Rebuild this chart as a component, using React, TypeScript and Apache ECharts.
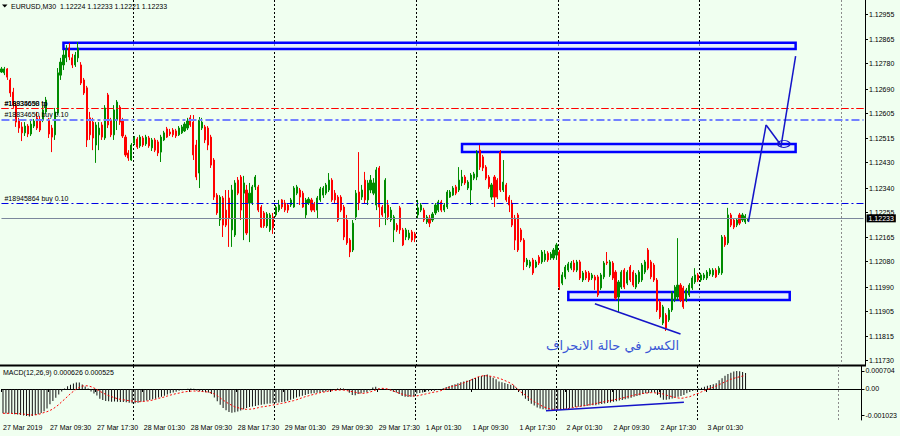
import React, { useEffect, useRef } from "react";
import * as echarts from "echarts";

// ---------------- data ----------------
const TITLE = "EURUSD,M30\u00a0\u00a01.12224 1.12233 1.12221 1.12233";
const MACD_TITLE = "MACD(12,26,9) 0.000626 0.000525";
const NOTE = "الكسر في حالة الانحراف";

const TIME_LABELS = [
  "27 Mar 2019", "27 Mar 09:30", "27 Mar 17:30", "28 Mar 01:30", "28 Mar 09:30", "28 Mar 17:30",
  "29 Mar 01:30", "29 Mar 09:30", "29 Mar 17:30", "1 Apr 01:30", "1 Apr 09:30", "1 Apr 17:30",
  "2 Apr 01:30", "2 Apr 09:30", "2 Apr 17:30", "3 Apr 01:30",
];
const LABEL_EVERY = 16; // bars between time labels
const VISIBLE_SLOTS = 293; // bar slots visible on the chart
const DAY_SEPARATORS = [45, 93, 141, 189, 237, 285];

const PRICE_TICKS = [1.12955, 1.12865, 1.1278, 1.1269, 1.12605, 1.12515, 1.1243, 1.1234, 1.12255, 1.12165, 1.1208, 1.1199, 1.11905, 1.11815, 1.1173];
const PRICE_MIN = 1.117147;
const PRICE_MAX = 1.130045;
const MACD_TICKS = [0.000704, 0, -0.001023];
const MACD_MIN = -0.001212;
const MACD_MAX = 0.000899;
const LAST_PRICE = 1.12233;

const TP_PRICE = 1.12622;
const TP_LABELS = ["#18834650 tp", "#18935698 tp"];
const BUY_PRICES = [1.12583, 1.12286];
const BUY_LABELS = ["#18834650 buy 0.10", "#18945864 buy 0.10"];

// rectangles: [barFrom, priceTop, barTo, priceBottom]
const BOXES = [
  [21, 1.12853, 269, 1.12831],
  [156, 1.12496, 269, 1.12467],
  [192, 1.11973, 267, 1.11944],
];
// trend lines: [[bar, price], [bar, price]]
const TRENDS = [
  [[201, 1.11931], [230, 1.11824]],
  [[253, 1.1222], [259, 1.12563]],
  [[259, 1.12563], [264, 1.12492]],
  [[264, 1.12485], [269, 1.12806]],
];
const ELLIPSE_AT = [265, 1.12496];
const NOTE_AT = [207, 1.11785];
const MACD_TREND = [[185, -0.000848], [232, -0.00052]];

// candles: [open, close, low, high] in points (1e-5)
const CANDLES_PTS = [
  [112750,112761,112747,112768],[112747,112761,112739,112768],[112761,112732,112722,112764],[112722,112676,112662,112729],[112679,112633,112623,112694],
  [112633,112573,112556,112641],[112580,112552,112535,112588],[112556,112535,112506,112573],[112535,112559,112524,112573],[112559,112531,112520,112566],
  [112531,112566,112524,112577],[112559,112577,112552,112584],[112588,112552,112545,112609],[112580,112545,112538,112595],[112580,112616,112573,112630],
  [112609,112651,112602,112662],[112580,112531,112517,112588],[112552,112520,112467,112563],[112528,112609,112510,112623],[112605,112747,112598,112764],
  [112739,112785,112722,112800],[112775,112810,112757,112828],[112800,112828,112785,112845],[112835,112803,112792,112853],[112800,112775,112764,112814],
  [112775,112810,112768,112821],[112800,112835,112785,112856],[112775,112711,112704,112785],[112722,112676,112669,112729],[112694,112510,112485,112701],
  [112588,112528,112510,112609],[112573,112517,112474,112588],[112492,112563,112429,112573],[112528,112552,112474,112573],[112563,112520,112510,112573],
  [112517,112623,112510,112633],[112669,112563,112552,112676],[112580,112528,112520,112588],[112528,112616,112510,112633],[112580,112644,112545,112651],
  [112626,112573,112563,112633],[112580,112524,112517,112588],[112520,112457,112450,112528],[112464,112446,112436,112474],[112439,112492,112436,112499],
  [112499,112517,112492,112524],[112513,112485,112478,112520],[112489,112520,112482,112528],[112517,112492,112485,112524],[112496,112520,112489,112528],
  [112517,112489,112482,112524],[112482,112510,112471,112517],[112510,112474,112467,112517],[112503,112464,112453,112510],[112467,112520,112432,112528],
  [112510,112535,112506,112542],[112549,112520,112517,112556],[112538,112531,112524,112549],[112545,112528,112520,112552],[112542,112524,112517,112549],
  [112528,112552,112524,112559],[112535,112556,112531,112563],[112542,112566,112538,112573],[112552,112577,112545,112588],[112588,112563,112556,112598],
  [112573,112457,112439,112598],[112492,112379,112368,112510],[112393,112580,112340,112591],[112552,112573,112545,112588],[112556,112510,112499,112563],
  [112552,112492,112474,112559],[112520,112421,112411,112528],[112439,112308,112298,112446],[112315,112252,112245,112322],[112227,112308,112206,112315],
  [112305,112209,112167,112312],[112262,112209,112202,112333],[112305,112234,112132,112333],[112192,112333,112132,112351],[112174,112358,112167,112368],
  [112368,112322,112315,112379],[112379,112262,112227,112386],[112322,112358,112156,112383],[112333,112181,112174,112351],[112287,112322,112149,112358],
  [112287,112344,112280,112351],[112344,112379,112333,112386],[112344,112262,112255,112351],[112273,112202,112199,112280],[112252,112206,112199,112259],
  [112206,112248,112199,112255],[112192,112245,112185,112252],[112238,112199,112178,112252],[112245,112273,112238,112280],[112262,112280,112255,112298],
  [112298,112273,112266,112301],[112287,112262,112255,112298],[112280,112262,112252,112287],[112280,112298,112273,112305],[112273,112340,112270,112347],
  [112322,112344,112315,112351],[112333,112308,112280,112340],[112322,112273,112270,112330],[112245,112298,112234,112305],[112287,112301,112280,112308],
  [112298,112262,112255,112305],[112284,112262,112255,112291],[112262,112305,112234,112312],[112298,112337,112291,112344],[112315,112340,112305,112347],
  [112322,112351,112315,112358],[112333,112368,112326,112393],[112368,112298,112291,112375],[112322,112298,112287,112333],[112308,112227,112220,112315],
  [112308,112262,112255,112315],[112273,112167,112156,112280],[112227,112146,112139,112245],[112156,112114,112096,112163],[112121,112216,112114,112227],
  [112238,112322,112227,112333],[112326,112287,112262,112467],[112308,112333,112298,112351],[112368,112298,112287,112397],[112298,112358,112280,112368],
  [112333,112368,112322,112386],[112322,112358,112315,112375],[112280,112404,112262,112414],[112411,112273,112202,112418],[112273,112245,112238,112280],
  [112252,112368,112209,112375],[112280,112238,112227,112298],[112227,112262,112220,112273],[112192,112238,112149,112245],[112209,112192,112185,112216],
  [112270,112192,112178,112277],[112192,112139,112135,112199],[112167,112192,112156,112199],[112163,112181,112156,112192],[112185,112156,112149,112192],
  [112178,112163,112149,112185],[112245,112270,112234,112298],[112262,112280,112255,112287],[112262,112227,112220,112270],[112220,112238,112213,112245],
  [112234,112216,112202,112245],[112227,112248,112220,112255],[112252,112280,112245,112287],[112262,112291,112255,112298],[112291,112262,112255,112298],
  [112262,112280,112255,112287],[112273,112326,112266,112333],[112308,112326,112305,112333],[112315,112340,112312,112347],[112344,112322,112315,112351],
  [112333,112368,112326,112414],[112358,112379,112347,112404],[112379,112358,112351,112386],[112340,112361,112333,112368],[112333,112386,112280,112393],
  [112375,112390,112368,112397],[112379,112464,112368,112474],[112474,112414,112404,112492],[112450,112411,112400,112457],[112414,112375,112368,112421],
  [112379,112344,112337,112386],[112308,112351,112298,112358],[112379,112308,112273,112386],[112368,112308,112301,112375],[112467,112333,112326,112474],
  [112333,112361,112326,112439],[112351,112298,112291,112358],[112308,112280,112255,112315],[112287,112209,112202,112298],[112234,112156,112121,112245],
  [112245,112121,112114,112252],[112192,112156,112149,112199],[112156,112079,112050,112163],[112068,112086,112061,112093],[112064,112079,112057,112086],
  [112086,112040,112033,112093],[112061,112079,112057,112086],[112096,112075,112068,112103],[112079,112114,112072,112121],[112086,112107,112079,112121],
  [112110,112086,112079,112117],[112093,112107,112086,112114],[112093,112121,112086,112128],[112103,112139,112086,112146],[112114,111990,111980,112121],
  [112004,112033,111997,112043],[112026,112061,112018,112068],[112050,112072,112043,112079],[112057,112075,112050,112082],[112075,112050,112043,112086],
  [112050,112079,112043,112086],[112079,112022,112015,112086],[112015,112040,112008,112047],[112043,112022,112015,112050],[112040,112015,112008,112047],
  [112022,112033,112015,112040],[112026,112015,111980,112033],[112026,111962,111955,112033],[111987,112033,111980,112040],[112026,112075,112018,112082],
  [112079,112075,112068,112114],[112033,112079,112026,112086],[112075,112022,112015,112082],[112043,111951,111944,112050],[111955,112008,111902,112015],
  [111990,112043,111983,112050],[112050,111990,111983,112057],[112004,112043,111997,112050],[112061,112015,112008,112068],[112043,111997,111990,112050],
  [111990,112033,111983,112040],[112008,112043,112001,112050],[112015,112068,112008,112075],[112043,112079,112036,112086],[112121,112057,112050,112128],
  [112079,112026,112018,112086],[112068,112015,112008,112075],[112015,111909,111902,112022],[111937,111884,111877,111944],[111863,111920,111856,111927],
  [111891,111845,111835,111898],[111874,111909,111867,111916],[111909,111969,111902,111976],[111944,111990,111937,111997],[111955,111997,111944,112163],
  [111997,111944,111937,112004],[111987,111920,111913,111994],[111944,111980,111937,111987],[111962,111997,111955,112004],[111987,112022,111980,112029],
  [112008,112033,112001,112057],[112033,112015,112008,112040],[112015,112033,112008,112040],[112022,112033,112015,112040],[112022,112043,112015,112050],
  [112036,112050,112029,112057],[112033,112050,112026,112057],[112050,112026,112022,112057],[112040,112057,112033,112064],[112040,112167,112033,112174],
  [112167,112139,112132,112174],[112146,112245,112139,112270],[112245,112209,112202,112252],[112227,112202,112195,112234],[112209,112227,112202,112234],
  [112245,112216,112209,112252],[112227,112245,112220,112252],[112220,112241,112213,112248],[112224,112233,112221,112233],
];

// MACD main line (histogram) and signal, in 1e-6
const MACD_MAIN_U = [
  -950,-955,-960,-970,-985,-1000,-1015,-1040,-1060,-1075,
  -1060,-1020,-985,-940,-870,-760,-600,-470,-340,-220,
  -100,20,110,170,210,255,250,180,100,20,
  -100,-180,-250,-380,-430,-470,-480,-500,-490,-500,
  -510,-505,-520,-535,-555,-560,-540,-500,-480,-450,
  -430,-400,-380,-330,-300,-260,-220,-170,-140,-110,
  -70,-50,-15,10,15,5,-60,-90,-110,-130,
  -140,-200,-330,-480,-620,-740,-830,-900,-925,-910,
  -880,-840,-790,-745,-705,-680,-660,-635,-620,-600,
  -580,-565,-560,-545,-530,-510,-495,-460,-420,-380,
  -330,-290,-260,-230,-200,-180,-170,-150,-130,-115,
  -100,-60,-40,-20,15,25,20,-40,-150,-230,
  -240,-200,-170,-140,-130,-60,60,90,20,-10,
  -20,-30,-60,-110,-140,-200,-270,-300,-310,-300,
  -290,-180,-160,-140,-110,-90,-80,-70,-40,-10,
  30,80,120,160,190,220,260,290,320,350,
  400,430,470,510,550,570,500,440,380,290,
  260,230,200,170,150,40,-60,-250,-380,-470,
  -580,-650,-720,-760,-790,-800,-810,-815,-820,-815,
  -800,-790,-770,-755,-730,-700,-690,-680,-670,-660,
  -650,-640,-635,-610,-590,-570,-550,-530,-500,-480,
  -450,-430,-400,-370,-340,-300,-270,-240,-200,-170,
  -160,-130,-140,-230,-330,-420,-420,-400,-370,-330,
  -300,-270,-230,-170,-120,-80,-50,20,50,90,
  130,160,190,220,340,420,520,590,640,680,
  704,690,660,626,
];
const MACD_SIGNAL_U = [
  -950,-950,-952,-955,-958,-962,-968,-980,-995,-1010,
  -1016,-1010,-995,-960,-920,-886,-840,-780,-700,-610,
  -500,-400,-290,-180,-90,0,60,110,130,120,
  90,40,-20,-90,-150,-210,-260,-300,-340,-380,
  -405,-420,-440,-455,-470,-485,-495,-495,-485,-470,
  -456,-430,-400,-365,-340,-310,-274,-240,-210,-180,
  -160,-130,-110,-95,-85,-78,-80,-90,-100,-110,
  -120,-150,-195,-260,-350,-430,-510,-580,-640,-700,
  -730,-760,-790,-795,-790,-782,-760,-730,-700,-690,
  -670,-650,-625,-605,-585,-560,-540,-510,-480,-456,
  -420,-380,-340,-300,-270,-235,-210,-180,-143,-125,
  -105,-80,-65,-55,-45,-39,-45,-60,-80,-104,
  -130,-150,-165,-169,-150,-120,-78,-40,0,26,
  20,0,-39,-80,-120,-169,-200,-230,-261,-270,
  -274,-270,-250,-220,-195,-170,-140,-120,-104,-70,
  -30,26,60,100,130,156,200,240,287,330,
  380,430,482,505,521,515,500,482,450,420,
  378,330,280,221,150,26,-80,-160,-235,-330,
  -420,-495,-560,-620,-690,-730,-770,-795,-795,-795,
  -795,-790,-775,-755,-730,-710,-690,-670,-651,-630,
  -610,-590,-570,-534,-515,-495,-470,-450,-430,-400,
  -380,-355,-326,-300,-270,-240,-215,-195,-175,-160,
  -150,-143,-150,-160,-169,-200,-240,-270,-300,-330,
  -350,-365,-350,-320,-300,-250,-200,-169,-110,-65,
  -20,30,65,120,170,221,280,330,380,417,
  450,480,505,525,
];

// ---------------- component ----------------
export default function App() {
  const ref = useRef<HTMLDivElement>(null);

  useEffect(() => {
    if (!ref.current) return;
    const chart = echarts.init(ref.current, undefined, { renderer: "svg" });
    const font = "Liberation Sans";
    const cats = Array.from({ length: VISIBLE_SLOTS }, (_, i) => String(i));
    const candles = CANDLES_PTS.map((r) => r.map((v) => v / 1e5));
    const macd = MACD_MAIN_U.map((v) => v / 1e6);
    const signal = MACD_SIGNAL_U.map((v) => v / 1e6);
    const firstSlot = 0;
    const lastSlot = VISIBLE_SLOTS - 1;

    const labelInterval = (i: number) => i % LABEL_EVERY === 0 && i / LABEL_EVERY < TIME_LABELS.length;
    const sepInterval = (i: number) => DAY_SEPARATORS.indexOf(i) >= 0;
    const sepColors = DAY_SEPARATORS.map((_, k) => (k === DAY_SEPARATORS.length - 1 ? "#8c8c8c" : "#000000"));

    const tpStyle = { color: "#ff0000", type: [7, 3, 2, 3], width: 1.2, opacity: 1 };
    const buyStyles = [
      { color: "#7381ff", type: [8, 3, 3, 3], width: 2, opacity: 1 },
      { color: "#0000e6", type: [7, 3, 2, 3], width: 1.2, opacity: 1 },
    ];
    const smallLabel = { color: "#000", fontSize: 7, fontFamily: font };
    const orderLabel = (text: string) => ({
      show: true,
      position: "insideStartTop",
      formatter: text,
      distance: [3, 1],
      ...smallLabel,
    });

    const xBase = (gridIndex: number) => ({
      type: "category" as const,
      gridIndex,
      data: cats,
      boundaryGap: true,
      axisLine: { show: false },
      axisTick: { show: false },
      axisLabel: { show: false },
      splitLine: {
        show: true,
        interval: sepInterval,
        lineStyle: { color: sepColors, type: [2, 2], width: 1 },
      },
    });

    const hLine = (price: number, lineStyle: any, label: any) => [
      { coord: [firstSlot, price], lineStyle, label },
      { coord: [lastSlot, price] },
    ];

    chart.setOption({
      animation: false,
      backgroundColor: "#f0fff0",
      grid: [
        { left: 0, top: 0, width: 865, height: 365 },
        { left: 0, top: 366, width: 865, height: 54 },
      ],
      xAxis: [
        xBase(0),
        {
          ...xBase(1),
          axisLine: { show: true, lineStyle: { color: "#000", width: 1 } },
          axisTick: { show: true, interval: labelInterval, length: 3, lineStyle: { color: "#000" } },
          axisLabel: {
            show: true,
            interval: labelInterval,
            formatter: (_v: string, i: number) => TIME_LABELS[i / LABEL_EVERY] ?? "",
            align: "left",
            margin: 4,
            ...smallLabel,
          },
        },
      ],
      yAxis: [
        {
          type: "value",
          gridIndex: 0,
          position: "right",
          min: PRICE_MIN,
          max: PRICE_MAX,
          axisLine: { show: true, lineStyle: { color: "#000", width: 1 } },
          axisTick: { show: true, length: 3, customValues: PRICE_TICKS, lineStyle: { color: "#000" } },
          axisLabel: { customValues: PRICE_TICKS, formatter: (v: number) => v.toFixed(5), margin: 4, ...smallLabel },
          splitLine: { show: false },
        },
        {
          type: "value",
          gridIndex: 1,
          position: "right",
          min: MACD_MIN,
          max: MACD_MAX,
          axisLine: { show: true, lineStyle: { color: "#000", width: 1 } },
          axisTick: { show: true, length: 3, customValues: MACD_TICKS, lineStyle: { color: "#000" } },
          axisLabel: {
            customValues: MACD_TICKS,
            formatter: (v: number) => (v === 0 ? "0.00" : v.toFixed(6)),
            margin: 4,
            ...smallLabel,
          },
          splitLine: { show: false },
        },
      ],
      series: [
        {
          type: "candlestick",
          xAxisIndex: 0,
          yAxisIndex: 0,
          data: candles,
          barWidth: 1.6,
          itemStyle: {
            color: "#008c00",
            color0: "#ff0000",
            borderColor: "#008c00",
            borderColor0: "#ff0000",
            borderWidth: 1,
          },
          markArea: {
            silent: true,
            itemStyle: { color: "rgba(222,230,255,0.6)", borderColor: "#0000ff", borderWidth: 2.5 },
            label: { show: false },
            data: BOXES.map((b) => [{ coord: [b[0], b[1]] }, { coord: [b[2], b[3]] }]),
          },
          markLine: {
            silent: true,
            symbol: ["none", "none"],
            label: { show: false },
            data: [
              ...TP_LABELS.map((t) => hLine(TP_PRICE, tpStyle, orderLabel(t))),
              ...BUY_PRICES.map((p, k) => hLine(p, buyStyles[k], orderLabel(BUY_LABELS[k]))),
              hLine(LAST_PRICE, { color: "#7b879c", type: "solid", width: 1 }, {
                show: true,
                position: "end",
                formatter: LAST_PRICE.toFixed(5),
                backgroundColor: "#000",
                color: "#fff",
                fontSize: 7,
                fontFamily: font,
                padding: [1, 2, 0, 2],
                distance: 3,
              }),
              ...TRENDS.map((seg) => [
                { coord: seg[0], lineStyle: { color: "#1414c8", width: 1.5, type: "solid" } },
                { coord: seg[1] },
              ]),
            ],
          },
          markPoint: {
            silent: true,
            data: [
              {
                coord: NOTE_AT,
                symbol: "rect",
                symbolSize: 1,
                itemStyle: { color: "rgba(0,0,0,0)" },
                label: {
                  show: true,
                  position: "inside",
                  formatter: NOTE,
                  color: "#3a57d6",
                  fontSize: 13,
                  fontFamily: "DejaVu Sans",
                },
              },
              {
                coord: ELLIPSE_AT,
                symbol: "circle",
                symbolSize: [12, 7],
                itemStyle: { color: "rgba(0,0,0,0)", borderColor: "#1414c8", borderWidth: 1.2 },
                label: { show: false },
              },
            ],
          },
        },
        {
          type: "bar",
          xAxisIndex: 1,
          yAxisIndex: 1,
          data: macd,
          barWidth: 1,
          itemStyle: { color: "#111" },
          markLine: {
            silent: true,
            symbol: ["none", "none"],
            label: { show: false },
            data: [[{ coord: MACD_TREND[0], lineStyle: { color: "#1414c8", width: 1.5, type: "solid" } }, { coord: MACD_TREND[1] }]],
          },
        },
        {
          type: "line",
          xAxisIndex: 1,
          yAxisIndex: 1,
          data: signal,
          showSymbol: false,
          lineStyle: { color: "#ff0000", width: 1, type: [2, 2] },
        },
      ],
      graphic: [
        { type: "polygon", shape: { points: [[2, 4.5], [7.5, 4.5], [4.75, 7.5]] }, style: { fill: "#000" } },
        { type: "text", x: 11, y: 6.5, style: { text: TITLE, fill: "#000", fontSize: 7, fontFamily: font, verticalAlign: "middle" } },
        { type: "text", x: 3, y: 372.5, style: { text: MACD_TITLE, fill: "#000", fontSize: 7, fontFamily: font, verticalAlign: "middle" } },
        { type: "line", shape: { x1: 0, y1: 365.5, x2: 866, y2: 365.5 }, style: { stroke: "#000", lineWidth: 2 } },
      ],
    });

    return () => chart.dispose();
  }, []);

  return (
    <div
      ref={ref}
      style={{ position: "fixed", left: 0, top: 0, width: 900, height: 436, background: "#f0fff0" }}
    />
  );
}
